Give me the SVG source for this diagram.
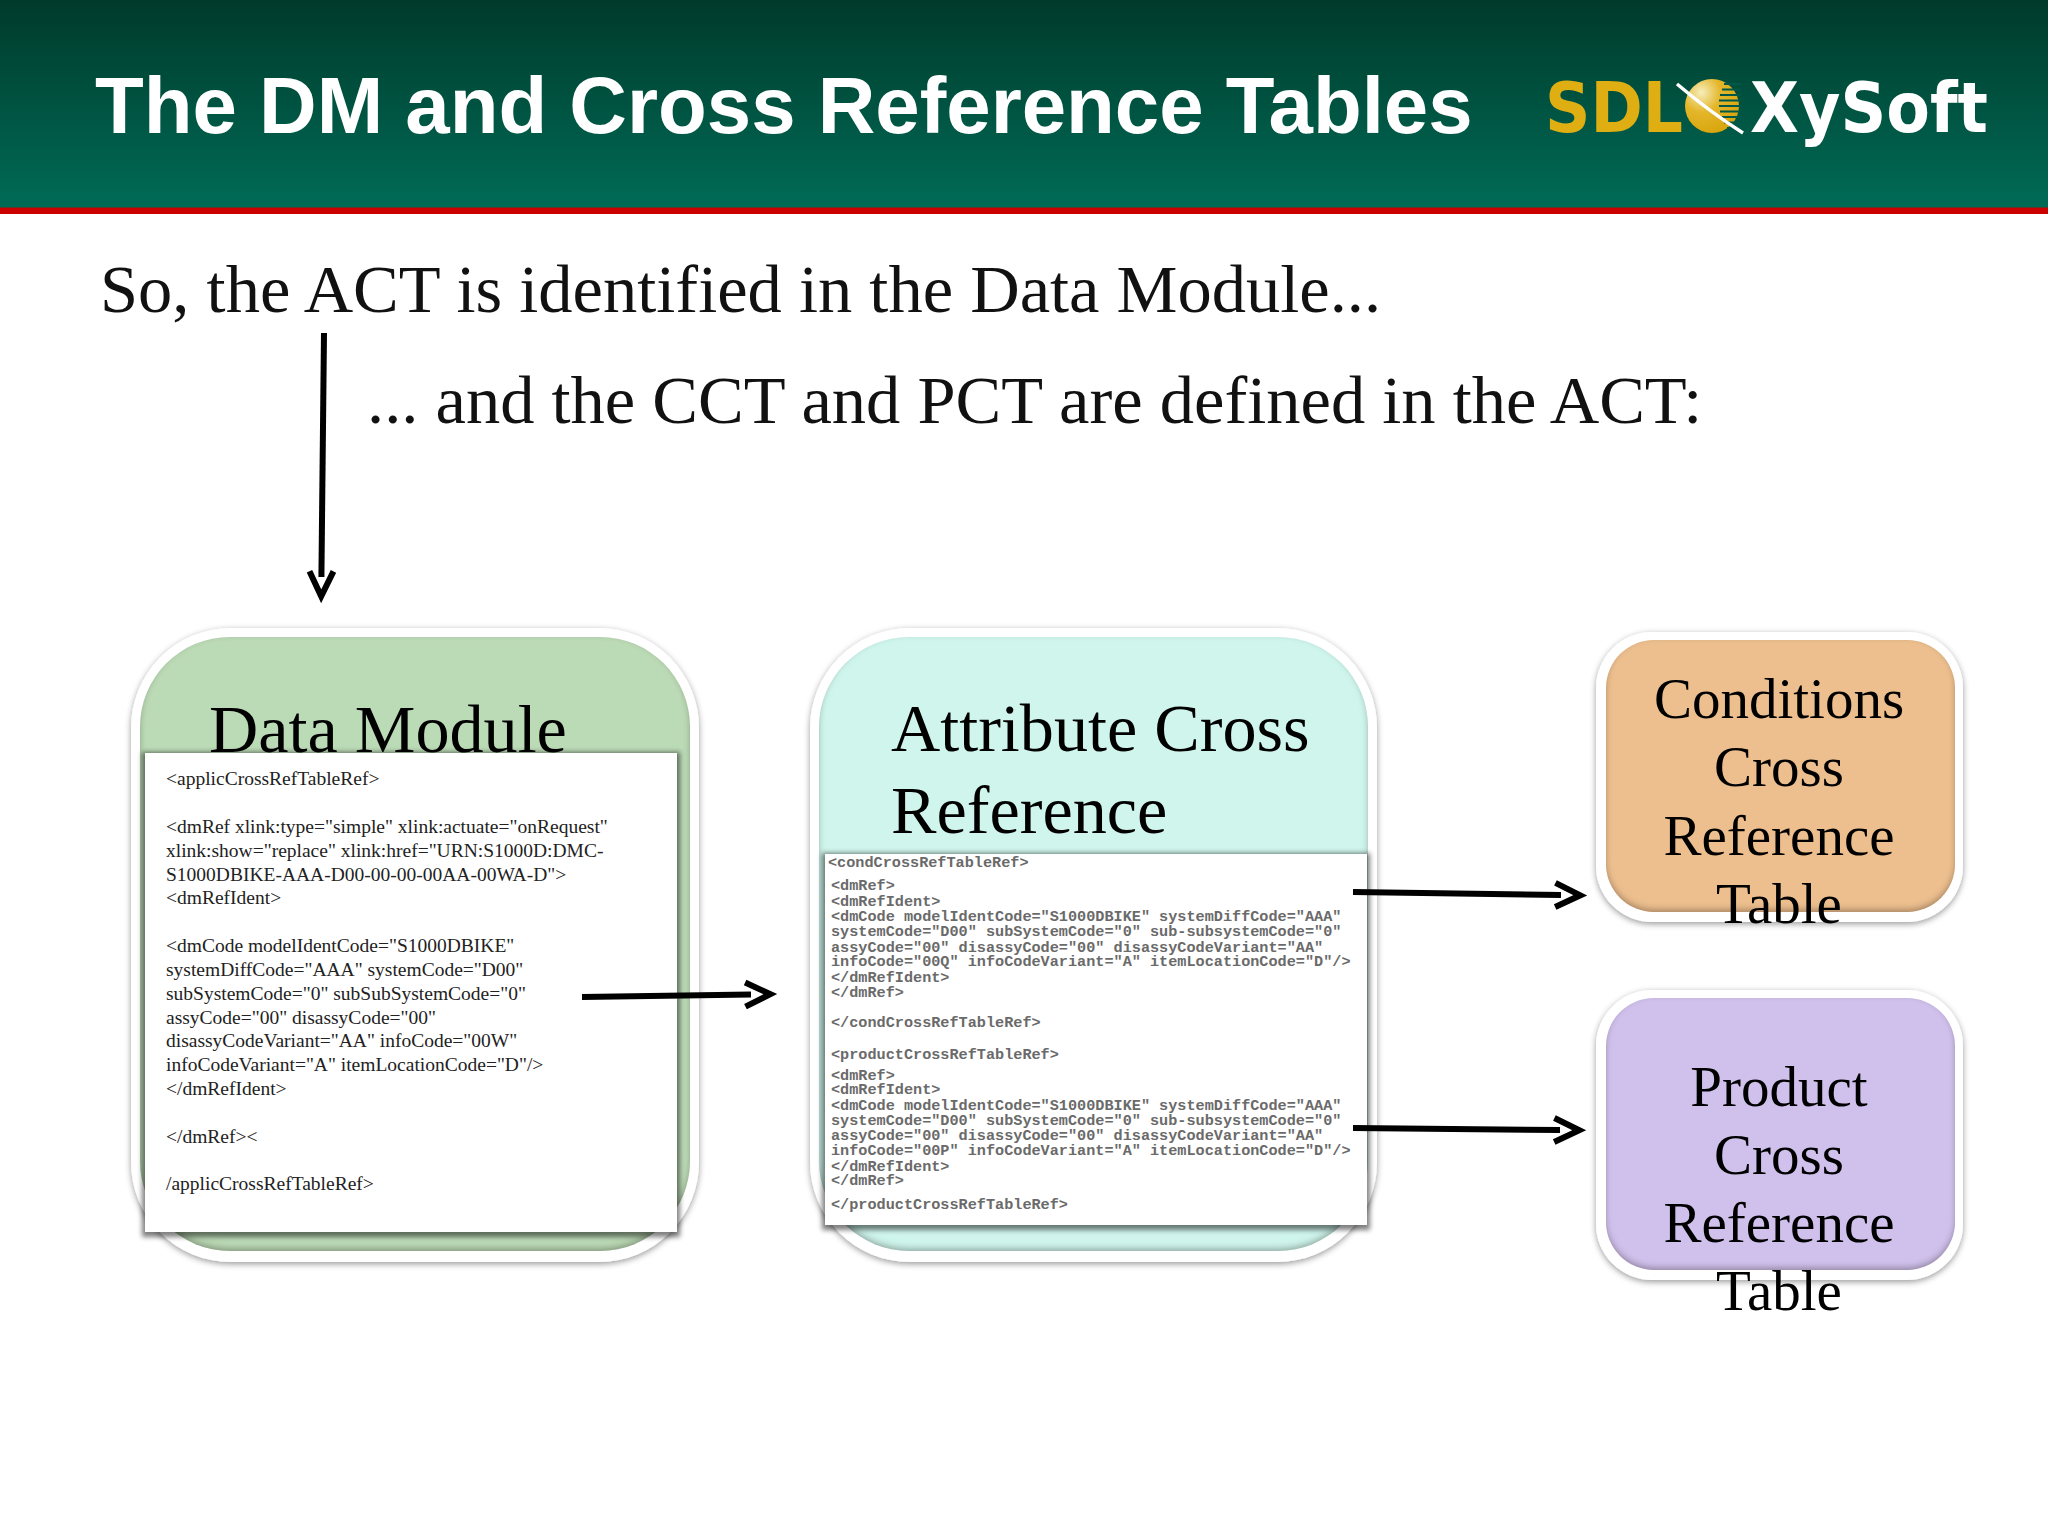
<svg xmlns="http://www.w3.org/2000/svg" width="2048" height="1536" viewBox="0 0 2048 1536">
<style>
.serif{font-family:"Liberation Serif","Times New Roman",serif;fill:#000}
.head{font-size:68.500px;fill:#111}
.big{font-size:68.200px}
.mid{font-size:57px;text-anchor:middle}
.dm{font-size:19.500px;fill:#222}
.act{font-family:"Liberation Mono","Courier New",monospace;font-size:15.200px;fill:#6a6a6a;font-weight:bold}
.logo{font-family:"DejaVu Sans","Liberation Sans",sans-serif;font-weight:bold;font-size:70px}
.conn{fill:none;stroke:#000;stroke-width:6;marker-end:url(#open)}
.outer{fill:#fff;filter:url(#soft)}
.fill{filter:url(#bevel)}
.panel{fill:#fff;filter:url(#pshadow)}
</style>
<defs>
<linearGradient id="hdr" x1="0" y1="0" x2="0" y2="1"><stop offset="0" stop-color="#003a2b"/><stop offset="1" stop-color="#006b56"/></linearGradient>
<radialGradient id="ball" cx="0.3" cy="0.25" r="0.8"><stop offset="0" stop-color="#f6eebc"/><stop offset="0.45" stop-color="#e4b62a"/><stop offset="1" stop-color="#d8a50c"/></radialGradient>
<filter id="soft" x="-5%" y="-5%" width="110%" height="110%"><feDropShadow dx="0" dy="2" stdDeviation="3" flood-color="#000" flood-opacity="0.4"/></filter>
<filter id="bevel" x="-2%" y="-2%" width="104%" height="104%">
<feGaussianBlur in="SourceAlpha" stdDeviation="3" result="b"/>
<feOffset in="b" dy="-3" result="o"/>
<feComposite in="SourceAlpha" in2="o" operator="out" result="edge"/>
<feFlood flood-color="#302010" flood-opacity="0.55"/>
<feComposite in2="edge" operator="in" result="dark"/>
<feMerge><feMergeNode in="SourceGraphic"/><feMergeNode in="dark"/></feMerge>
</filter>
<filter id="pshadow" x="-5%" y="-5%" width="110%" height="110%">
<feMorphology in="SourceAlpha" operator="dilate" radius="3" result="d"/>
<feGaussianBlur in="d" stdDeviation="2.500" result="b"/>
<feOffset in="b" dy="2" result="o"/>
<feFlood flood-color="#000" flood-opacity="0.5"/>
<feComposite in2="o" operator="in" result="s"/>
<feMerge><feMergeNode in="s"/><feMergeNode in="SourceGraphic"/></feMerge>
</filter>
<marker id="open" markerUnits="userSpaceOnUse" markerWidth="40" markerHeight="40" viewBox="0 0 40 40" refX="8.700" refY="20" orient="auto"><path d="M3 8 L28 20 L3 32" fill="none" stroke="#000" stroke-width="6" stroke-miterlimit="10"/></marker>
</defs>

<g id="header">
<rect x="0" y="0" width="2048" height="208" fill="url(#hdr)"/>
<rect x="0" y="207.500" width="2048" height="6.500" fill="#cc0000"/>
<text x="95" y="132.500" font-family="Liberation Sans,Arial,sans-serif" font-weight="bold" font-size="79.800" fill="#fff">The DM and Cross Reference Tables</text>
</g>
<g id="logo">
<text class="logo" x="1545" y="132" fill="#deae12" textLength="138" lengthAdjust="spacingAndGlyphs">SDL</text>
<circle cx="1712" cy="106" r="27" fill="url(#ball)"/>
<path d="M1724 84H1741M1722 89.500H1741M1720 95H1741M1719 100.500H1741M1719 106H1741M1720 111.500H1741M1722 117H1741M1724 122.500H1741M1727 128H1741" stroke="#00584a" stroke-width="2.200"/>
<path d="M1677 84 Q1710 112 1743 133" stroke="#fff" stroke-width="3.500" fill="none"/>
<text class="logo" x="1750" y="132" fill="#fff" textLength="238" lengthAdjust="spacingAndGlyphs">XySoft</text>
</g>

<g id="intro">
<text class="serif head" x="100" y="312">So, the ACT is identified in the Data Module...</text>
<text class="serif head" x="367" y="423">... and the CCT and PCT are defined in the ACT:</text>
</g>

<g id="data-module">
<rect class="outer" x="131" y="628" width="568" height="634" rx="100"/>
<rect class="fill" x="140" y="637" width="550" height="614" rx="90" fill="#bbdab6"/>
<text class="serif big" x="209" y="752">Data Module</text>
<rect class="panel" x="145" y="753" width="532" height="479"/>
<g class="serif dm">
<text x="166" y="785">&lt;applicCrossRefTableRef&gt;</text>
<text x="166" y="833">&lt;dmRef xlink:type="simple" xlink:actuate="onRequest"</text>
<text x="166" y="857">xlink:show="replace" xlink:href="URN:S1000D:DMC-</text>
<text x="166" y="881">S1000DBIKE-AAA-D00-00-00-00AA-00WA-D"&gt;</text>
<text x="166" y="904">&lt;dmRefIdent&gt;</text>
<text x="166" y="952">&lt;dmCode modelIdentCode="S1000DBIKE"</text>
<text x="166" y="976">systemDiffCode="AAA" systemCode="D00"</text>
<text x="166" y="1000">subSystemCode="0" subSubSystemCode="0"</text>
<text x="166" y="1024">assyCode="00" disassyCode="00"</text>
<text x="166" y="1047">disassyCodeVariant="AA" infoCode="00W"</text>
<text x="166" y="1071">infoCodeVariant="A" itemLocationCode="D"/&gt;</text>
<text x="166" y="1095">&lt;/dmRefIdent&gt;</text>
<text x="166" y="1143">&lt;/dmRef&gt;&lt;</text>
<text x="166" y="1190">/applicCrossRefTableRef&gt;</text>
</g>
</g>

<g id="attribute-cross-reference">
<rect class="outer" x="810" y="628" width="567" height="634" rx="100"/>
<rect class="fill" x="819" y="637" width="549" height="614" rx="90" fill="#cff5ec"/>
<text class="serif big" x="891" y="751">Attribute Cross</text>
<text class="serif big" x="891" y="833">Reference</text>
<rect class="panel" x="825" y="854" width="542" height="371"/>
<g class="act">
<text x="828" y="867">&lt;condCrossRefTableRef&gt;</text>
<text x="831" y="890">&lt;dmRef&gt;</text>
<text x="831" y="906">&lt;dmRefIdent&gt;</text>
<text x="831" y="921">&lt;dmCode modelIdentCode="S1000DBIKE" systemDiffCode="AAA"</text>
<text x="831" y="936">systemCode="D00" subSystemCode="0" sub-subsystemCode="0"</text>
<text x="831" y="951.500">assyCode="00" disassyCode="00" disassyCodeVariant="AA"</text>
<text x="831" y="966">infoCode="00Q" infoCodeVariant="A" itemLocationCode="D"/&gt;</text>
<text x="831" y="981.500">&lt;/dmRefIdent&gt;</text>
<text x="831" y="997">&lt;/dmRef&gt;</text>
<text x="831" y="1027">&lt;/condCrossRefTableRef&gt;</text>
<text x="831" y="1058.500">&lt;productCrossRefTableRef&gt;</text>
<text x="831" y="1079.500">&lt;dmRef&gt;</text>
<text x="831" y="1094">&lt;dmRefIdent&gt;</text>
<text x="831" y="1109.500">&lt;dmCode modelIdentCode="S1000DBIKE" systemDiffCode="AAA"</text>
<text x="831" y="1125">systemCode="D00" subSystemCode="0" sub-subsystemCode="0"</text>
<text x="831" y="1139.500">assyCode="00" disassyCode="00" disassyCodeVariant="AA"</text>
<text x="831" y="1155">infoCode="00P" infoCodeVariant="A" itemLocationCode="D"/&gt;</text>
<text x="831" y="1171">&lt;/dmRefIdent&gt;</text>
<text x="831" y="1185">&lt;/dmRef&gt;</text>
<text x="831" y="1209">&lt;/productCrossRefTableRef&gt;</text>
</g>
</g>

<g id="conditions-cross-reference-table">
<rect class="outer" x="1596" y="632" width="367" height="290" rx="56"/>
<rect class="fill" x="1606" y="640" width="349" height="272" rx="48" fill="#edbf8f"/>
<g class="serif mid">
<text x="1779" y="718">Conditions</text>
<text x="1779" y="786">Cross</text>
<text x="1779" y="855">Reference</text>
<text x="1779" y="923">Table</text>
</g>
</g>

<g id="product-cross-reference-table">
<rect class="outer" x="1596" y="990" width="367" height="290" rx="56"/>
<rect class="fill" x="1606" y="998" width="349" height="272" rx="48" fill="#d0c1ec"/>
<g class="serif mid">
<text x="1779" y="1106">Product</text>
<text x="1779" y="1174">Cross</text>
<text x="1779" y="1242">Reference</text>
<text x="1779" y="1310">Table</text>
</g>
</g>

<g id="connectors">
<path class="conn" d="M324 333 L321.400 577"/>
<path class="conn" d="M582 997 L751 994.500"/>
<path class="conn" d="M1353 892 L1561 895"/>
<path class="conn" d="M1353 1128 L1560 1130"/>
</g>
</svg>
